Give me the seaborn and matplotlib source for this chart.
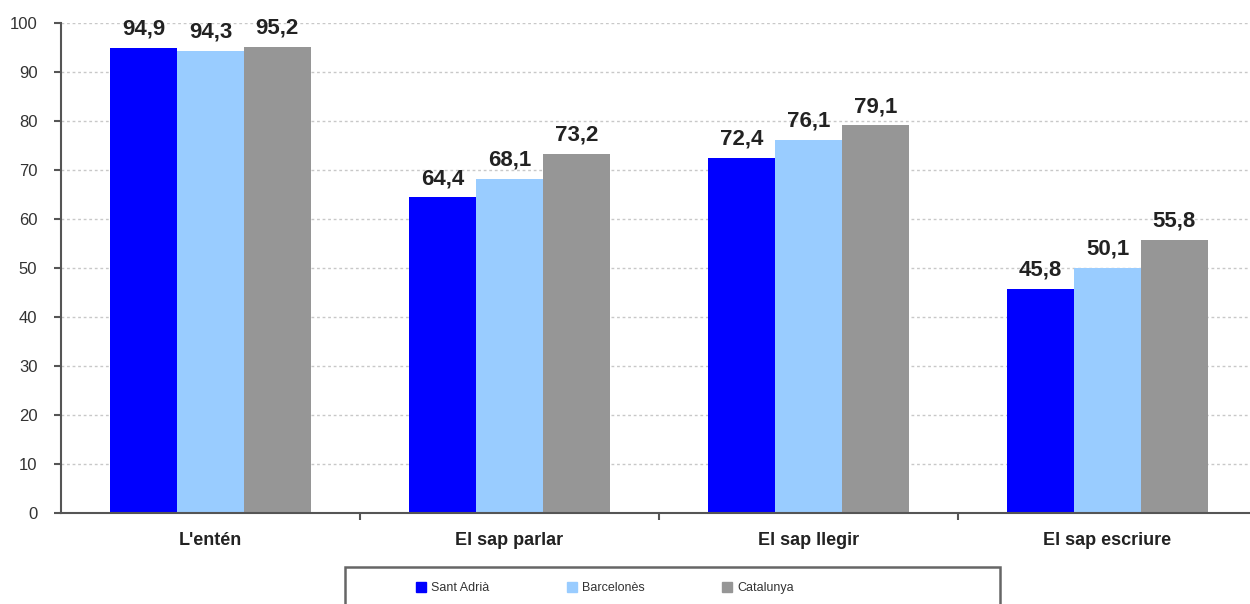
import numpy as np
import pandas as pd
import matplotlib
matplotlib.use("Agg")
import matplotlib.pyplot as plt
import seaborn as sns

categories = ["L'entén", "El sap parlar", "El sap llegir", "El sap escriure"]
series = ["Sant Adrià", "Barcelonès", "Catalunya"]
sant_adria = [94.9, 64.4, 72.4, 45.8]
barcelones = [94.3, 68.1, 76.1, 50.1]
catalunya = [95.2, 73.2, 79.1, 55.8]
colors = ["#0000FF", "#99CCFF", "#969696"]

rows = []
for name, vals in zip(series, [sant_adria, barcelones, catalunya]):
    for c, v in zip(categories, vals):
        rows.append({"cat": c, "serie": name, "val": v})
df = pd.DataFrame(rows)

sns.set_style("white")
plt.rcParams['font.family'] = ['Liberation Sans', 'DejaVu Sans']

fig = plt.figure(figsize=(12.5, 6.04), dpi=100)
ax = fig.add_axes([61/1250, 91/604, 1196/1250, 490/604])

sns.barplot(data=df, x="cat", y="val", hue="serie", order=categories,
            hue_order=series, palette=colors, width=0.67, saturation=1,
            ax=ax, legend=False, linewidth=0)

for cont in ax.containers:
    ax.bar_label(cont, labels=[f"{v:.1f}".replace(".", ",") for v in cont.datavalues],
                 padding=6, fontsize=16, fontweight="bold", color="#222222")

ax.set_ylim(0, 100)
ax.set_xlim(-0.5, 3.5)
ax.set_yticks(range(0, 101, 10))
ax.yaxis.grid(True, color="#c8c8c8", linestyle=(0, (2, 2)), linewidth=1)
ax.set_axisbelow(True)
ax.set_xlabel("")
ax.set_ylabel("")
for s in ["top", "right"]:
    ax.spines[s].set_visible(False)
for s in ["left", "bottom"]:
    ax.spines[s].set_color("#555555")
    ax.spines[s].set_linewidth(1.5)
ax.tick_params(axis="y", length=5, width=1.5, color="#555555", labelsize=12,
               labelcolor="#333333", pad=12, left=True)
ax.tick_params(axis="x", length=0, labelsize=13, labelcolor="#222222", pad=14)
for t in ax.get_xticklabels():
    t.set_fontweight("bold")
# category separators on x axis
ax.set_xticks([0.5, 1.5, 2.5], minor=True)
ax.tick_params(axis="x", which="minor", length=5, width=1.5, color="#555555", bottom=True)

# legend box (cut off by the bottom of the image)
box = plt.Rectangle((345/1250, -0.05), 655/1250, 0.05 + 37/604, transform=fig.transFigure,
                    facecolor="white", edgecolor="#666666", linewidth=1.8)
fig.patches.append(box)
handles = [plt.Rectangle((0, 0), 1, 1, color=c) for c in colors]
leg = fig.legend(handles, series, loc="center left", bbox_to_anchor=(410/1250, 1 - 588/604),
                 ncol=3, fontsize=9, frameon=False, handlelength=0.8, borderpad=0,
                 handleheight=0.8, handletextpad=0.4, columnspacing=6.2,
                 labelcolor="#333333")

fig.savefig("out.png", dpi=100)
